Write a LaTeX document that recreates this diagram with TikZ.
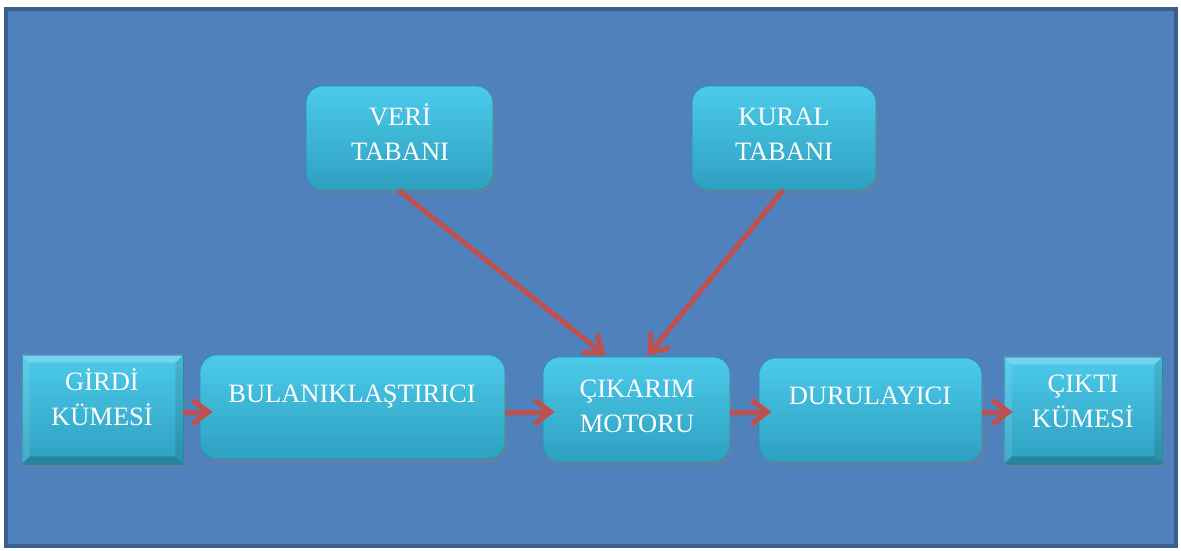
\documentclass[tikz,border=0pt]{standalone}
\usepackage{fontspec}
\setmainfont{Liberation Serif}
\usetikzlibrary{arrows.meta,shadows,calc}
\definecolor{bgblue}{HTML}{4F81BD}
\definecolor{framec}{HTML}{3A5F8E}
\definecolor{boxtop}{HTML}{4CCAEA}
\definecolor{boxbot}{HTML}{2EA0C0}
\definecolor{boxline}{HTML}{2A8FAD}
\definecolor{arrred}{HTML}{C0504D}
\begin{document}
\begin{tikzpicture}[x=1pt,y=-1pt,
  rbox/.style={rounded corners=17pt, top color=boxtop, bottom color=boxbot, draw=boxline, line width=0.6pt,
    drop shadow={shadow xshift=2pt, shadow yshift=-3pt, opacity=0.45}, inner sep=0pt},
  sbox/.style={rectangle, top color=boxtop, bottom color=boxbot, draw=boxline, line width=0.6pt,
    drop shadow={shadow xshift=2pt, shadow yshift=-3pt, opacity=0.45}, inner sep=0pt},
  txt/.style={text=white, align=center, anchor=base, inner sep=0pt, font=\fontsize{26.5}{35}\selectfont},
  arr/.style={draw=arrred, line width=5pt, -{Straight Barb[length=16pt,width=24pt,line width=5pt]}},
  hil/.style={fill=white, fill opacity=0.22, draw=none},
  shd/.style={fill=black, fill opacity=0.18, draw=none}
]
\useasboundingbox (0,0) rectangle (1181,550);
\fill[white] (0,0) rectangle (1181,550);
\draw[draw=framec, fill=bgblue, line width=4pt] (6,9) rectangle (1176,546);

% boxes
\node[rbox, minimum width=187pt, minimum height=104pt] (veri) at (399.5,138) {};
\node[rbox, minimum width=184pt, minimum height=104pt] (kural) at (784,138) {};
\node[sbox, minimum width=161pt, minimum height=109pt] (girdi) at (102.5,409.5) {};
\node[rbox, minimum width=305pt, minimum height=104pt] (bulan) at (352.5,407) {};
\node[rbox, minimum width=187pt, minimum height=105pt] (cik) at (636.5,409.5) {};
\node[rbox, minimum width=223pt, minimum height=104pt] (dur) at (870.5,410) {};
\node[sbox, minimum width=158pt, minimum height=107pt] (cikti) at (1083,410.5) {};

% bevels of the square boxes
\foreach \b in {girdi,cikti}{
  \fill[hil] (\b.north west) -- (\b.north east) -- ($(\b.north east)+(-8,8)$) -- ($(\b.north west)+(8,8)$) -- cycle;
  \fill[hil, fill opacity=0.1] (\b.north west) -- ($(\b.north west)+(8,8)$) -- ($(\b.south west)+(8,-8)$) -- (\b.south west) -- cycle;
  \fill[shd] (\b.south west) -- ($(\b.south west)+(8,-8)$) -- ($(\b.south east)+(-8,-8)$) -- (\b.south east) -- cycle;
  \fill[shd, fill opacity=0.1] (\b.north east) -- (\b.south east) -- ($(\b.south east)+(-8,-8)$) -- ($(\b.north east)+(-8,8)$) -- cycle;
}

% texts (base anchor = baseline of the last line)
\node[txt] (veriT) at (400,160) {VERİ\\TABANI};
\node[txt] (kuralT) at (784,160) {KURAL\\TABANI};
\node[txt] (girdiT) at (102,425) {GİRDİ\\KÜMESİ};
\node[txt] (bulanT) at (352,402) {BULANIKLAŞTIRICI};
\node[txt] (cikT) at (637,432) {ÇIKARIM\\MOTORU};
\node[txt] (durT) at (870,404) {DURULAYICI};
\node[txt] (ciktiT) at (1083,427) {ÇIKTI\\KÜMESİ};

% arrows
\coordinate (ay) at (0,412);
\draw[arr] (girdi.east |- ay) -- ($(bulan.west |- ay)+(13,0)$);
\draw[arr] (bulan.east |- ay) -- ($(cik.west |- ay)+(12,0)$);
\draw[arr] (cik.east |- ay) -- ($(dur.west |- ay)+(13,0)$);
\draw[arr] (dur.east |- ay) -- ($(cikti.west |- ay)+(9,0)$);
\draw[arr] ($(veri.south)+(-1,0)$) -- ($(cik.north)+(-31,-1)$);
\draw[arr] ($(kural.south)+(-1,0)$) -- ($(cik.north)+(11,-1)$);
\end{tikzpicture}
\end{document}
